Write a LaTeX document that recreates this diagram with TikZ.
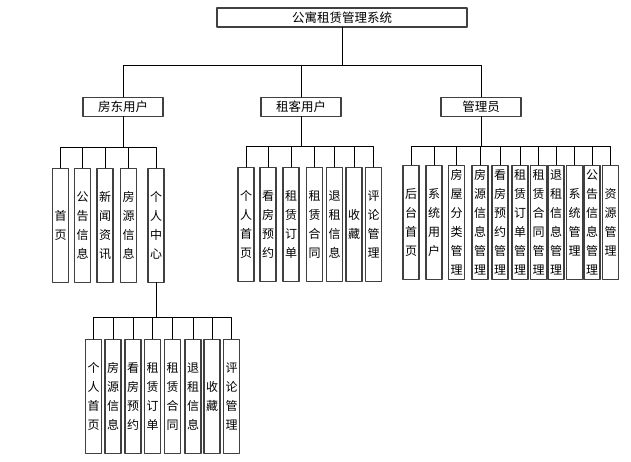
\documentclass[tikz,border=0pt]{standalone}
\usepackage{fontspec}
\setmainfont{Noto Sans CJK SC}
\usepackage{tikz}

\begin{document}
\begin{tikzpicture}[x=1pt, y=-1pt, thick, line cap=round, line join=round]

    % Stili dei blocchi
    \tikzset{hbox/.style={draw=black!75, line width=1.1pt, fill=white, minimum width=80pt, minimum height=19pt, inner sep=0pt, font=\fontsize{12.5}{14}\selectfont},
             vbox/.style={draw=black!75, line width=1.1pt, fill=white, minimum width=16pt, minimum height=114pt, inner sep=0pt, anchor=north, align=center, font=\fontsize{12}{19}\selectfont},
             link/.style={draw=black, line width=0.9pt}}

    \useasboundingbox (0,0) rectangle (631,462);

    % Radice
    \node[hbox, minimum width=250pt] (sys) at (342,17.5) {公寓租赁管理系统};

    % Secondo livello
    \node[hbox] (ld) at (123,107) {房东用户};
    \node[hbox] (zk) at (301,107) {租客用户};
    \node[hbox] (gl) at (481,107) {管理员};

    \foreach \c in {ld,zk,gl}
        \draw[link] (sys.south) -- ++(0,38) -| (\c.north);

    % Figli di "房东用户"
    \node[vbox] (ld1) at (60.5,168) {首\\页};
    \node[vbox] (ld2) at (82.5,168) {公\\告\\信\\息};
    \node[vbox] (ld3) at (105,168) {新\\闻\\资\\讯};
    \node[vbox] (ld4) at (128.5,168) {房\\源\\信\\息};
    \node[vbox] (ld5) at (156,168) {个\\人\\中\\心};

    \foreach \c in {ld1,ld2,ld3,ld4,ld5}
        \draw[link] (ld.south) -- ++(0,30) -| (\c.north);

    % Figli di "租客用户"
    \node[vbox] (zk1) at (246,167) {个\\人\\首\\页};
    \node[vbox] (zk2) at (268,167) {看\\房\\预\\约};
    \node[vbox] (zk3) at (291,167) {租\\赁\\订\\单};
    \node[vbox] (zk4) at (314.5,167) {租\\赁\\合\\同};
    \node[vbox] (zk5) at (334.5,167) {退\\租\\信\\息};
    \node[vbox] (zk6) at (354,167) {收\\藏};
    \node[vbox] (zk7) at (373.5,167) {评\\论\\管\\理};

    \foreach \c in {zk1,zk2,zk3,zk4,zk5,zk6,zk7}
        \draw[link] (zk.south) -- ++(0,29) -| (\c.north);

    % Figli di "管理员"
    \node[vbox] (gl1) at (411,165) {后\\台\\首\\页};
    \node[vbox] (gl2) at (434,165) {系\\统\\用\\户};
    \node[vbox] (gl3) at (456.5,165) {房\\屋\\分\\类\\管\\理};
    \node[vbox] (gl4) at (480,165) {房\\源\\信\\息\\管\\理};
    \node[vbox] (gl5) at (500,165) {看\\房\\预\\约\\管\\理};
    \node[vbox] (gl6) at (520,165) {租\\赁\\订\\单\\管\\理};
    \node[vbox] (gl7) at (538.5,165) {租\\赁\\合\\同\\管\\理};
    \node[vbox] (gl8) at (556,165) {退\\租\\信\\息\\管\\理};
    \node[vbox] (gl9) at (574.5,165) {系\\统\\管\\理};
    \node[vbox] (gl10) at (592,165) {公\\告\\信\\息\\管\\理};
    \node[vbox] (gl11) at (610.5,165) {资\\源\\管\\理};

    \foreach \c in {gl1,gl2,gl3,gl4,gl5,gl6,gl7,gl8,gl9,gl10,gl11}
        \draw[link] (gl.south) -- ++(0,29) -| (\c.north);

    % Figli di "个人中心"
    \node[vbox] (gr1) at (93.5,339) {个\\人\\首\\页};
    \node[vbox] (gr2) at (113,339) {房\\源\\信\\息};
    \node[vbox] (gr3) at (133,339) {看\\房\\预\\约};
    \node[vbox] (gr4) at (152.5,339) {租\\赁\\订\\单};
    \node[vbox] (gr5) at (172.5,339) {租\\赁\\合\\同};
    \node[vbox] (gr6) at (193,339) {退\\租\\信\\息};
    \node[vbox] (gr7) at (212,339) {收\\藏};
    \node[vbox] (gr8) at (231.5,339) {评\\论\\管\\理};

    \foreach \c in {gr1,gr2,gr3,gr4,gr5,gr6,gr7,gr8}
        \draw[link] (ld5.south) -- ++(0,34) -| (\c.north);

\end{tikzpicture}
\end{document}
